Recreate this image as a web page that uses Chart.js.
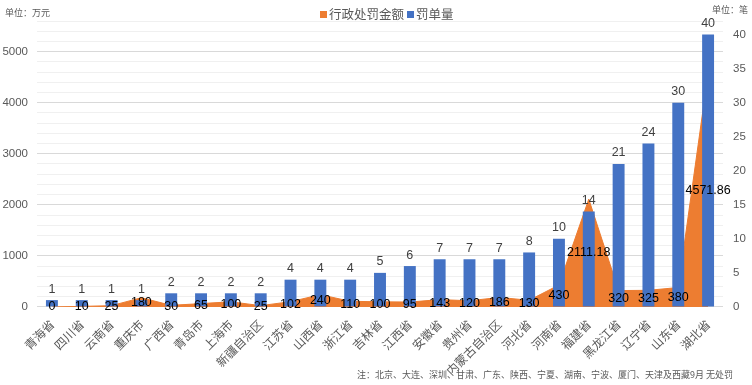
<!DOCTYPE html>
<html><head><meta charset="utf-8">
<script src="https://cdn.jsdelivr.net/npm/chart.js@4/dist/chart.umd.min.js"></script>
<style>
html,body{margin:0;padding:0;background:#fff;}
#wrap{position:relative;width:752px;height:385px;overflow:hidden;}
.note{position:absolute;font-family:'Noto Sans CJK SC',sans-serif;font-size:9px;color:#595959;white-space:nowrap;line-height:1;}
#legend{position:absolute;left:320px;top:6px;font-family:'Noto Sans CJK SC',sans-serif;font-size:12.5px;color:#595959;white-space:nowrap;line-height:16px;display:flex;align-items:center;}
#legend .box{display:inline-block;width:7px;height:7px;margin-right:2px;}
#legend .item{display:flex;align-items:center;margin-right:3px;}
</style></head><body>
<div id="wrap"><canvas id="c" width="752" height="385"></canvas>
<div class="note" style="left:5px;top:8px">单位：万元</div>
<div class="note" style="left:712px;top:5px">单位：笔</div>
<div class="note" style="left:357px;top:370px">注：北京、大连、深圳、甘肃、广东、陕西、宁夏、湖南、宁波、厦门、天津及西藏9月 无处罚</div>
<div id="legend"></div>
</div>
<script>
const categories = ['青海省','四川省','云南省','重庆市','广西省','青岛市','上海市','新疆自治区','江苏省','山西省','浙江省','吉林省','江西省','安徽省','贵州省','内蒙古自治区','河北省','河南省','福建省','黑龙江省','辽宁省','山东省','湖北省'];
const amounts = [0,10,25,180,30,65,100,25,102,240,110,100,95,143,120,186,130,430,2111.18,320,325,380,4571.86];
const counts = [1,1,1,1,2,2,2,2,4,4,4,5,6,7,7,7,8,10,14,21,24,30,40];
const leftTicks = [0,1000,2000,3000,4000,5000];
const rightTicks = [0,5,10,15,20,25,30,35,40];

const NUMFONT = "'Liberation Sans', 'Noto Sans CJK SC', sans-serif";
const CJK = "'Noto Sans CJK SC', sans-serif";

const labelPlugin = {
  id: 'valueLabels',
  afterDatasetsDraw(chart) {
    const ctx = chart.ctx;
    const yL = chart.scales.y;
    ctx.save();
    ctx.textAlign = 'center';
    ctx.textBaseline = 'middle';
    const mb = chart.getDatasetMeta(1);
    ctx.font = '12.5px ' + NUMFONT;
    ctx.fillStyle = '#404040';
    mb.data.forEach((el, i) => {
      ctx.fillText(String(counts[i]), el.x, el.y - 11);
    });
    const ml = chart.getDatasetMeta(0);
    ctx.fillStyle = '#000000';
    ml.data.forEach((el, i) => {
      const y = yL.getPixelForValue(amounts[i] / 2);
      ctx.fillText(String(amounts[i]), el.x, y);
    });
    ctx.restore();
  }
};

const chart = new Chart(document.getElementById('c'), {
  type: 'bar',
  data: {
    labels: categories,
    datasets: [
      {
        type: 'line', label: '行政处罚金额', data: amounts, yAxisID: 'y',
        backgroundColor: '#ED7D31', borderColor: '#ED7D31', borderWidth: 1,
        fill: 'origin', pointRadius: 0, pointHoverRadius: 0, tension: 0, order: 2
      },
      {
        type: 'bar', label: '罚单量', data: counts, yAxisID: 'y1',
        backgroundColor: '#4472C4', borderWidth: 0,
        categoryPercentage: 1, barPercentage: 0.4, order: 1
      }
    ]
  },
  options: {
    responsive: false,
    animation: false,
    layout: { padding: { top: 21, left: 2, right: 0, bottom: 5 } },
    plugins: {
      legend: { display: false },
      tooltip: { enabled: false }
    },
    scales: {
      x: {
        grid: { display: false },
        border: { display: false },
        ticks: {
          maxRotation: 45, minRotation: 45, autoSkip: false, padding: 2,
          color: '#595959', font: { family: CJK, size: 12 }
        }
      },
      y: {
        position: 'left', min: 0, max: 5600,
        border: { display: false },
        grid: {
          drawTicks: false,
          color: c => (c.tick && c.tick.value % 1000 === 0) ? '#d9d9d9' : '#f0f0f0'
        },
        afterBuildTicks: s => { s.ticks = []; for (let v = 0; v <= 5600; v += 200) s.ticks.push({ value: v }); },
        afterFit: s => { s.width = 35; },
        ticks: {
          autoSkip: false, padding: 9, color: '#595959',
          font: { family: NUMFONT, size: 11.5 },
          callback: v => leftTicks.includes(v) ? String(v) : ''
        }
      },
      y1: {
        position: 'right', min: 0, max: 42,
        border: { display: false },
        grid: { drawOnChartArea: false, drawTicks: false },
        afterBuildTicks: s => { s.ticks = rightTicks.map(v => ({ value: v })); },
        afterFit: s => { s.width = 29; },
        ticks: {
          autoSkip: false, padding: 10, color: '#595959',
          font: { family: NUMFONT, size: 11.5 }
        }
      }
    }
  },
  plugins: [labelPlugin]
});

// legend built from the chart's datasets
const lg = document.getElementById('legend');
chart.data.datasets.forEach(ds => {
  const it = document.createElement('span'); it.className = 'item';
  const b = document.createElement('span'); b.className = 'box'; b.style.background = ds.backgroundColor;
  const t = document.createElement('span'); t.textContent = ds.label;
  it.appendChild(b); it.appendChild(t); lg.appendChild(it);
});
</script>
</body></html>
